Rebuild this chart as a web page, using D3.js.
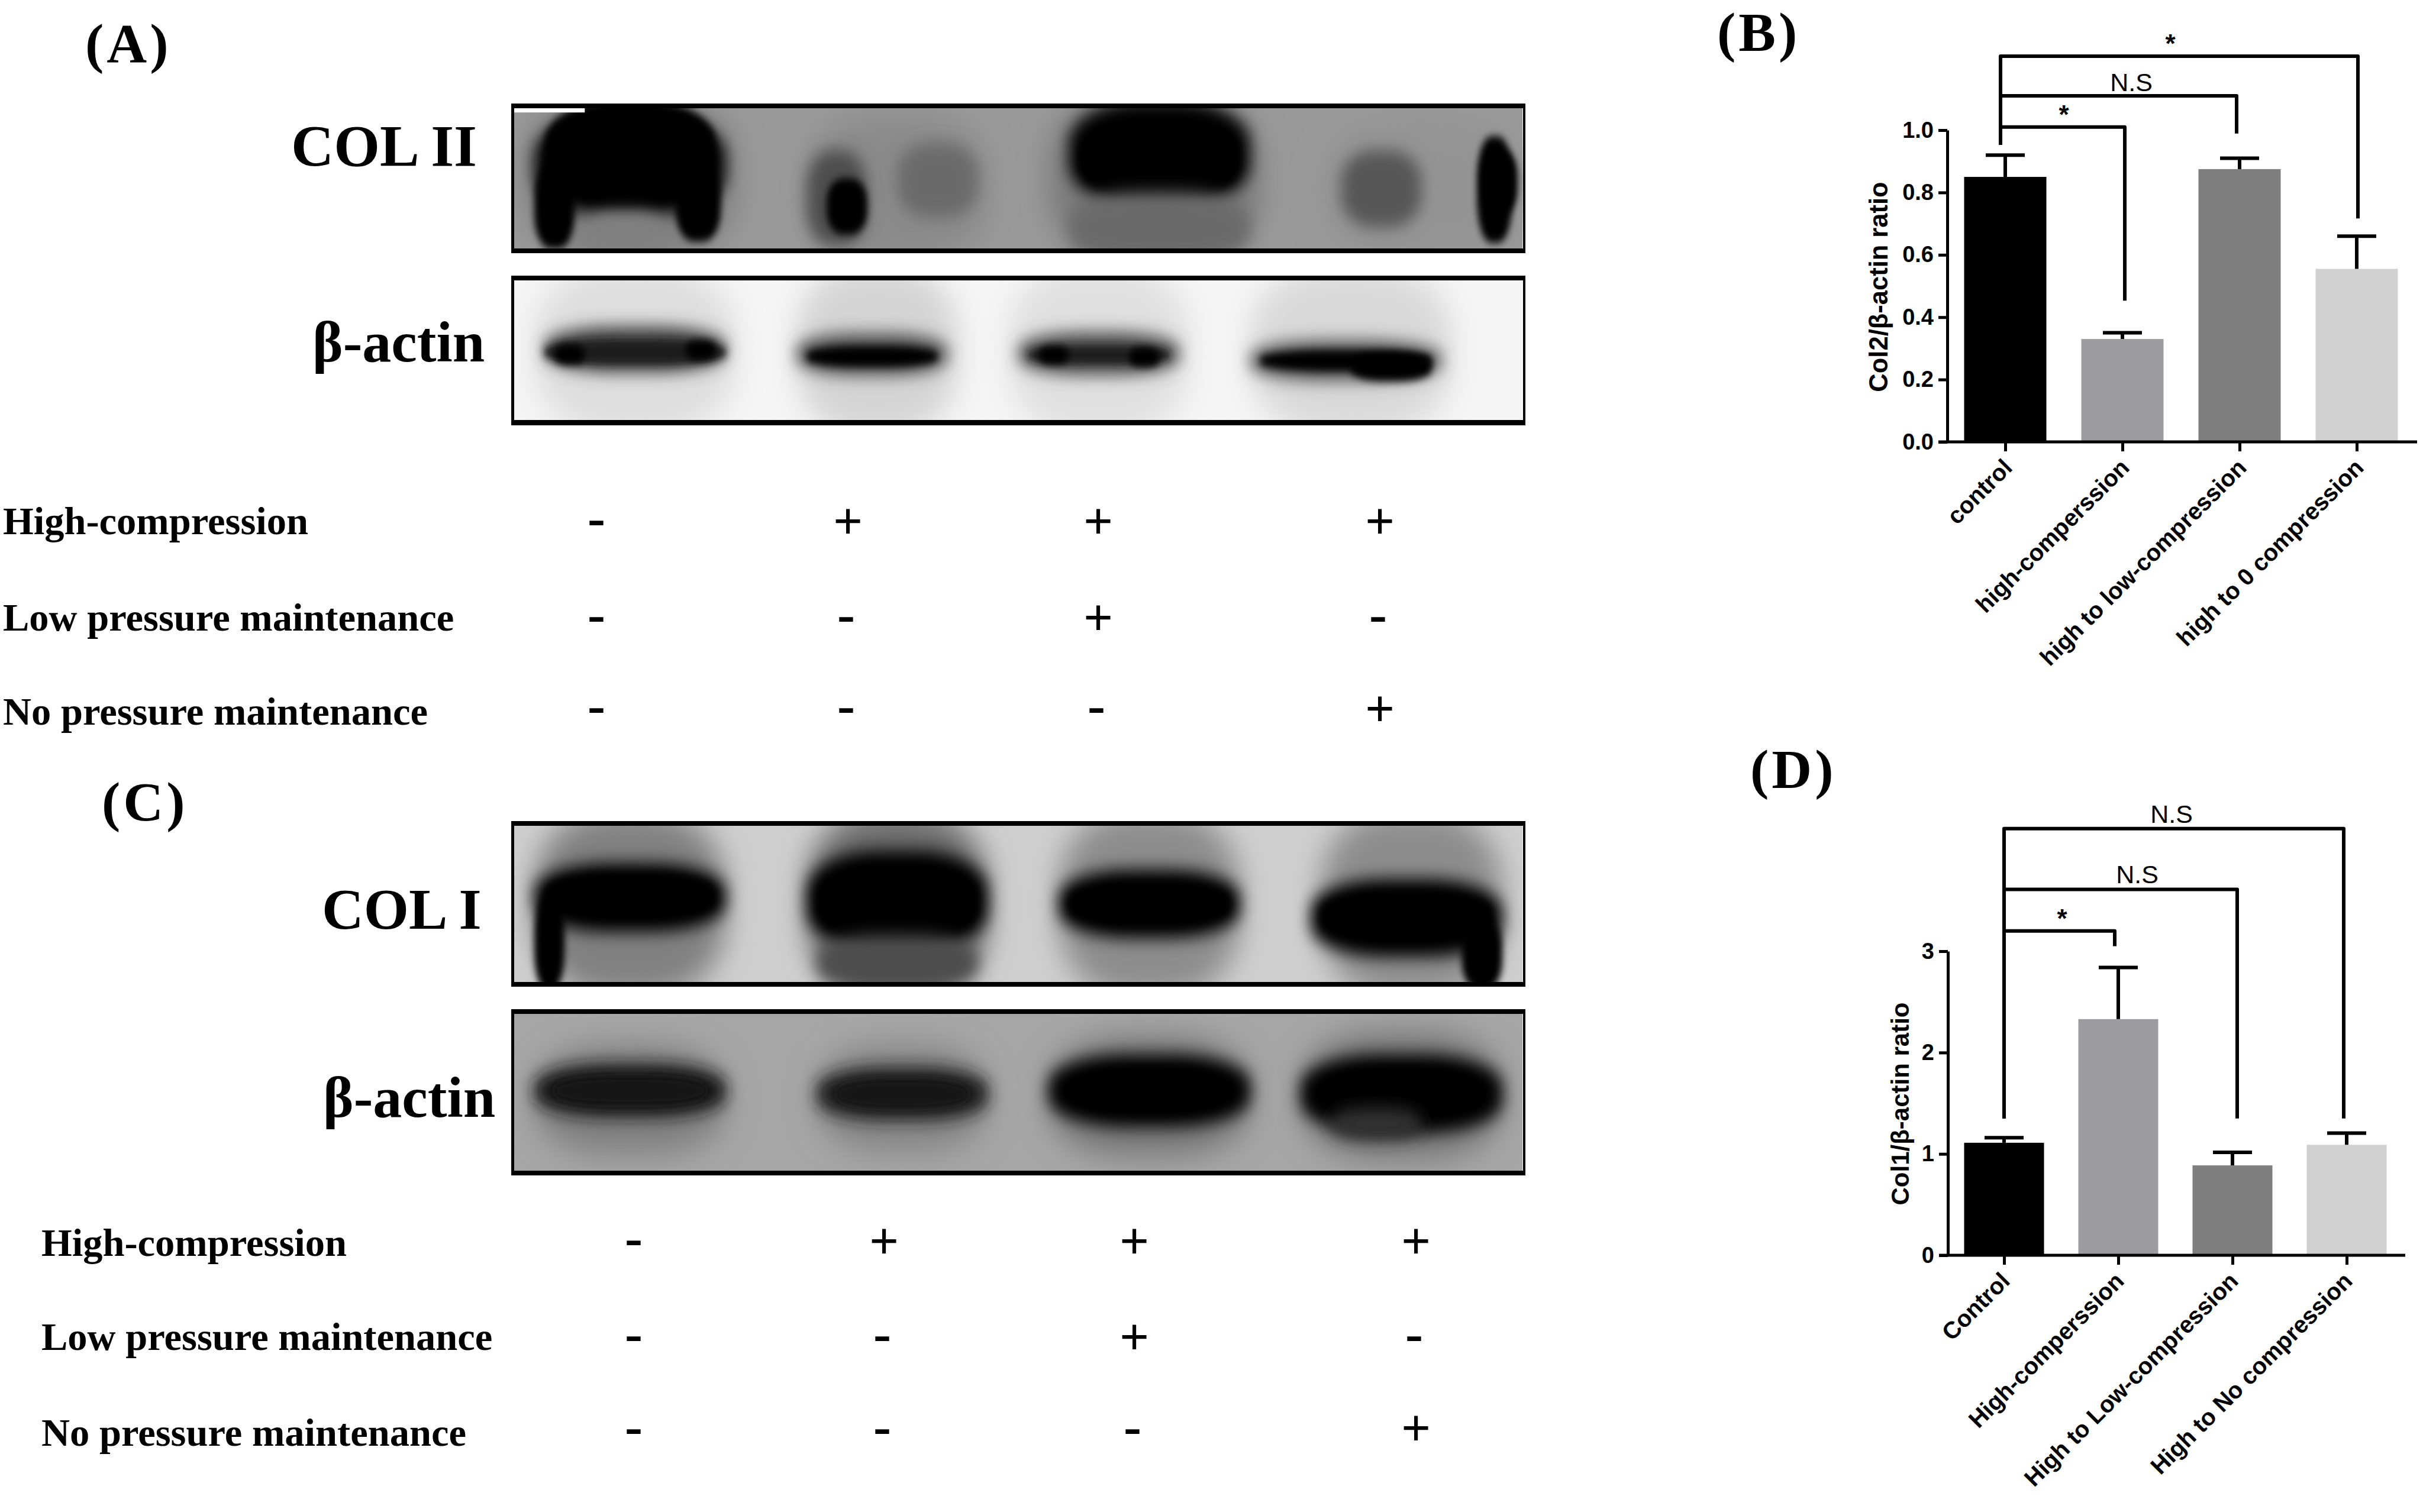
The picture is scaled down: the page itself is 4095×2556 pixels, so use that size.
<!DOCTYPE html>
<html><head><meta charset="utf-8">
<script src="https://cdn.jsdelivr.net/npm/d3@7"></script>
<style>html,body{margin:0;padding:0;background:#fff}svg{display:block}</style>
</head><body><svg id="fig" width="4095" height="2556"></svg>
<script>
// ---------- bar chart data ----------
const catsB = ["control","high-comperssion","high to low-compression","high to 0 compression"];
const meansB = [0.85,0.33,0.875,0.555];
const errTopB = [0.92,0.35,0.91,0.66];
const ticksB = [0,0.2,0.4,0.6,0.8,1.0];
const catsD = ["Control","High-comperssion","High to Low-compression","High to No compression"];
const meansD = [1.11,2.33,0.887,1.09];
const errTopD = [1.16,2.84,1.015,1.205];
const ticksD = [0,1,2,3];
const barGrays = ["#000000","#9c9ca0","#7f7f7f","#d0d0d0"];
// brackets: target index, bracket level, end of right drop, end of left drop (data units)
const bracketsB = [
 {to:3,level:1.237,end:0.717,left:0.953,label:"*"},
 {to:2,level:1.11,end:0.989,left:0.953,label:"N.S"},
 {to:1,level:1.01,end:0.453,left:0.953,label:"*"}];
const bracketsD = [
 {to:3,level:4.21,end:1.35,left:1.35,label:"N.S"},
 {to:2,level:3.61,end:1.35,left:1.35,label:"N.S"},
 {to:1,level:3.2,end:3.05,left:1.35,label:"*"}];
// ---------- treatment table ----------
const rowLabels = ["High-compression","Low pressure maintenance","No pressure maintenance"];
const signsA = [["-","+","+","+"],["-","-","+","-"],["-","-","-","+"]];
const signsC = [["-","+","+","+"],["-","-","+","-"],["-","-","-","+"]];
// ---------- blot bands, estimated: [lane from %, lane to %, migration from %, to %, darkness %, softness] ----------
const blotA1 = [
 [0,100,0,100,40,0],
 [1,22,-10,110,50,2],[29,47,5,110,46,2],[53,74,-10,110,52,2],[80,100,5,110,42,2],
 [2,21,5,76,100,1],[3,20,-5,68,100,0],[2,6,40,100,100,0],[16,20.5,40,95,100,0],[7,15,74,105,50,1],
 [29,35,30,98,70,1],[31,35,50,90,100,0],[38,46,25,78,58,1],
 [55,73,-5,70,100,1],[56,72,10,62,100,0],[55,73,60,110,58,1],
 [82,90,30,85,66,1],[95.5,99,20,96,100,0],[96,99.5,30,75,100,0],
 [0,7,0,3,-60,-1]];
const blotA2 = [
 [0,100,0,100,4,0],
 [2,22,-10,110,13,2],[28,44,-10,110,17,2],[49,67,-10,110,12,2],[73,93,-10,110,15,2],
 [3,21,33,66,75,1],[3,21,43,60,88,0],[4,7,46,60,100,0],[17,20,43,57,100,0],
 [28,43,38,68,70,1],[29,42,47,62,100,0],
 [50,66,37,68,70,1],[51,65,47,60,88,0],[52,55,47,60,100,0],[61,64,48,62,100,0],
 [73,92,43,72,68,1],[74,91,50,65,100,0],[83,91,52,72,100,0]];
const blotC1 = [
 [0,100,0,100,19,0],
 [2,21,-10,110,50,2],[29,47,-10,110,58,2],[54,72,-10,110,45,2],[80,98,-10,110,45,2],
 [2,21,24,68,100,1],[3,20,30,60,100,0],[2,5,45,105,100,0],
 [29,47,16,80,100,1],[30,46,25,72,100,0],[30,46,70,105,70,1],
 [54,72,28,72,100,1],[55,71,36,64,100,0],
 [79,98,34,84,100,1],[80,97,42,74,100,0],[94,98,60,105,100,0]];
const blotC2 = [
 [0,100,0,100,35,0],
 [2,21,20,90,50,2],[30,47,20,88,48,2],[53,73,15,90,54,2],[78,98,12,92,54,2],
 [2,21,32,66,92,1],[4,19,40,58,93,0],
 [30,47,34,68,88,1],[32,45,42,60,90,0],
 [53,73,26,72,100,1],[55,71,34,64,100,0],
 [78,98,26,76,100,1],[80,96,34,66,100,0],[81,90,60,80,80,1]];

// ---------- helpers ----------
const svg = d3.select("#fig");
const serif = "'Liberation Serif','Times New Roman',serif";
const sans = "'Liberation Sans',Arial,sans-serif";
const defs = svg.append("defs");
[[0,6,7],[1,13,14],[2,24,26]].forEach(([k,sx,sy])=>{
  defs.append("filter").attr("id","soft"+k).attr("filterUnits","userSpaceOnUse")
    .attr("x",600).attr("y",0).attr("width",2300).attr("height",2200)
    .append("feGaussianBlur").attr("stdDeviation",sx+" "+sy);
});

function blot(id,bands,x0,x1,yTop,yT2,yB2,yBot){
  const sx=d3.scaleLinear([0,100],[x0+5,x1-5]), sy=d3.scaleLinear([0,100],[yT2,yB2]);
  const tone=d3.scaleLinear([0,100],[255,0]).clamp(true);
  defs.append("clipPath").attr("id",id).append("rect").attr("x",x0).attr("y",yTop).attr("width",x1-x0).attr("height",yBot-yTop);
  const g=svg.append("g").attr("clip-path",`url(#${id})`);
  g.selectAll("rect.b").data(bands).join("rect").attr("class","b")
   .attr("x",d=>sx(d[0])).attr("width",d=>sx(d[1])-sx(d[0]))
   .attr("y",d=>sy(d[2])).attr("height",d=>sy(d[3])-sy(d[2]))
   .attr("rx",(d,i)=>i>0&&d[5]>=0?(sx(d[1])-sx(d[0]))*0.4:0)
   .attr("ry",(d,i)=>i>0&&d[5]>=0?(sy(d[3])-sy(d[2]))*0.4:0)
   .attr("fill",d=>d[4]<0?"#ffffff":d3.rgb(tone(d[4]),tone(d[4]),tone(d[4])))
   .attr("filter",(d,i)=>i===0||d[5]<0?null:`url(#soft${d[5]})`);
  const frame=[[x0,yTop,x1-x0,yT2-yTop],[x0,yB2,x1-x0,yBot-yB2],[x0,yTop,5,yBot-yTop],[x1-4,yTop,4,yBot-yTop]];
  svg.append("g").selectAll("rect").data(frame).join("rect")
    .attr("x",d=>d[0]).attr("y",d=>d[1]).attr("width",d=>d[2]).attr("height",d=>d[3]).attr("fill","#000");
}
blot("ca1",blotA1,864,2578,175,183,420,428);
blot("ca2",blotA2,864,2578,466,474,710,719);
blot("cc1",blotC1,864,2578,1388,1396,1660,1668);
blot("cc2",blotC2,864,2578,1706,1714,1979,1987);

function txt(s,x,y,size,opt={}){
  const t=svg.append("text").text(s).attr("x",x).attr("y",y)
   .attr("font-family",opt.family||serif).attr("font-weight",opt.weight||"bold")
   .attr("font-size",size).attr("text-anchor",opt.anchor||"start").attr("fill","#000");
  if(opt.spacing) t.attr("letter-spacing",opt.spacing);
  return t;
}
const tag={spacing:5};
txt("(A)",144,105,94,tag); txt("(B)",2902,86,94,tag); txt("(C)",172,1387,94,tag); txt("(D)",2958,1332,94,tag);
txt("COL II",492,280,100); txt("β-actin",528,611,98);
txt("COL I",544,1570,98); txt("β-actin",546,1888,98);

function table(labelX,baselines,signs,cols,plusY,minusY){
  const col=d3.scaleOrdinal([0,1,2,3],cols);
  rowLabels.forEach((l,i)=>{
    txt(l,labelX,baselines[i],66.5);
    signs[i].forEach((s,j)=>{
      if(s==="+") txt("+",col(j),plusY[i]+31,88,{anchor:"middle"});
      else txt("-",col(j)-3,minusY[i]+23,90,{anchor:"middle"});
    });
  });
}
table(5,[903,1066,1225],signsA,[1011,1433,1856,2332],[880,1043,1197],[883,1046,1200]);
table(70,[2123,2282,2444],signsC,[1074,1494,1917,2393],[2097,2259,2413],[2100,2262,2419]);

function barChart(o){
  const y=d3.scaleLinear([0,o.yMax],[o.y0,o.y1]);
  const x=d3.scalePoint(o.cats,[o.c0,o.c1]);
  const g=svg.append("g");
  g.selectAll("rect.bar").data(o.means).join("rect").attr("class","bar")
   .attr("x",(d,i)=>x(o.cats[i])-o.bw/2).attr("width",o.bw)
   .attr("y",d=>y(d)).attr("height",d=>y(0)-y(d))
   .attr("fill",(d,i)=>barGrays[i]);
  const eb=g.append("g").attr("stroke","#000").attr("fill","none");
  o.means.forEach((m,i)=>{
    const cx=x(o.cats[i]);
    eb.append("line").attr("x1",cx).attr("x2",cx).attr("y1",y(m)).attr("y2",y(o.err[i])).attr("stroke-width",6);
    eb.append("line").attr("x1",cx-33).attr("x2",cx+33).attr("y1",y(o.err[i])).attr("y2",y(o.err[i])).attr("stroke-width",6);
  });
  const ya=g.append("g").attr("transform",`translate(${o.ax},0)`)
    .call(d3.axisLeft(y).tickValues(o.ticks).tickFormat(o.fmt).tickSize(15).tickSizeOuter(0).tickPadding(8));
  const xa=g.append("g").attr("transform",`translate(0,${o.y0})`)
    .call(d3.axisBottom(x).tickSize(16).tickSizeOuter(0).tickFormat(""));
  xa.select(".domain").attr("d",`M${o.ax-15},0H${o.xEnd}`);
  [ya,xa].forEach(a=>{a.selectAll("path,line").attr("stroke","#000").attr("stroke-width",5);});
  ya.selectAll("text").attr("font-family",sans).attr("font-weight","bold").attr("font-size",o.tickSize).attr("fill","#000");
  g.selectAll("text.cat").data(o.cats).join("text").attr("class","cat").text(d=>d)
   .attr("text-anchor","end").attr("font-family",sans).attr("font-weight","bold").attr("font-size",o.catSize).attr("fill","#000")
   .attr("transform",d=>`translate(${x(d)+o.catDx},${o.y0+o.catDy}) rotate(-45)`);
  g.append("text").text(o.title).attr("text-anchor","middle").attr("font-family",sans).attr("font-weight","bold")
   .attr("font-size",o.titleSize).attr("fill","#000")
   .attr("transform",`translate(${o.titleX},${o.titleY}) rotate(-90)`);
  const br=g.append("g").attr("stroke","#000").attr("stroke-width",6).attr("fill","none").attr("stroke-linejoin","round");
  o.brackets.forEach((b,i)=>{
    const xr=x(o.cats[b.to])+o.brDx[i];
    br.append("path").attr("d",d3.line()([[o.brLeft,y(b.left)],[o.brLeft,y(b.level)],[xr,y(b.level)],[xr,y(b.end)]]));
    g.append("text").text(b.label).attr("x",o.lblX[i]).attr("y",y(b.level)+(b.label==="*"?o.starDy:o.nsDy))
     .attr("text-anchor","middle").attr("font-family",sans).attr("font-weight",b.label==="*"?"bold":"normal").attr("font-size",b.label==="*"?o.starSize:o.nsSize).attr("fill","#000");
  });
}
barChart({cats:catsB,means:meansB,err:errTopB,ticks:ticksB,yMax:1,y0:747,y1:220,c0:3389,c1:3983,bw:139,ax:3291,xEnd:4085,
  fmt:d3.format(".1f"),tickSize:38,catSize:40,catDx:14,catDy:46,title:"Col2/β-actin ratio",titleSize:43.5,titleX:3190,titleY:485,
  brackets:bracketsB,brLeft:3381,brDx:[2,-5,4],lblX:[3668,3602,3488],starDy:-6,nsDy:-8,starSize:44,nsSize:43});
barChart({cats:catsD,means:meansD,err:errTopD,ticks:ticksD,yMax:3,y0:2122,y1:1608,c0:3387,c1:3966,bw:135,ax:3292,xEnd:4065,
  fmt:d3.format("d"),tickSize:38,catSize:40,catDx:12,catDy:46,title:"Col1/β-actin ratio",titleSize:42,titleX:3226,titleY:1866,
  brackets:bracketsD,brLeft:3387,brDx:[-5,8,-6],lblX:[3670,3612,3485],starDy:-6,nsDy:-10,starSize:44,nsSize:43});
</script></body></html>
